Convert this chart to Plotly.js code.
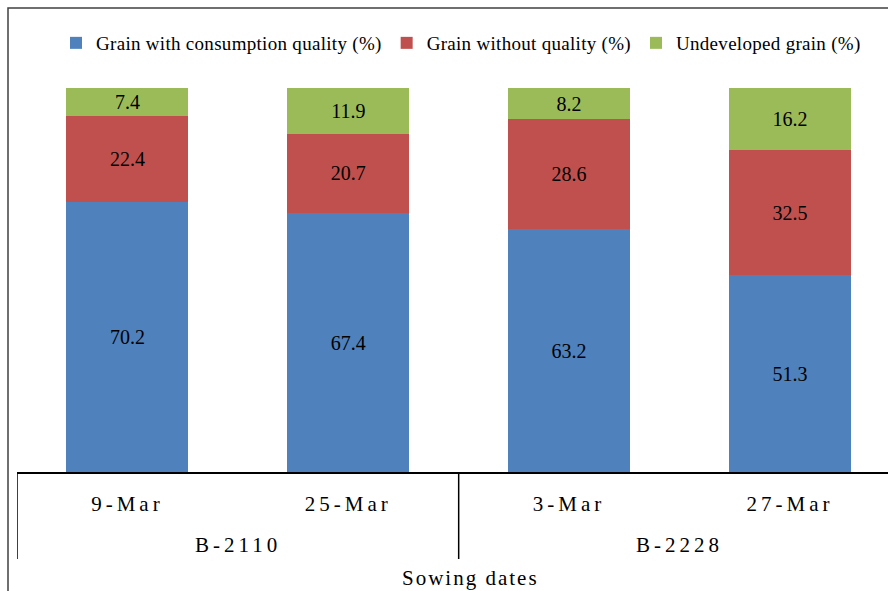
<!DOCTYPE html>
<html>
<head>
<meta charset="utf-8">
<script src="https://cdn.plot.ly/plotly-3.0.1.min.js"></script>
<style>
  html, body { margin: 0; padding: 0; background: #fff; font-family: 'Liberation Serif', serif; }
  #chart { width: 888px; height: 591px; }
  #chart svg text { font-family: 'Liberation Serif', serif !important; }
  .xtick text { letter-spacing: 4px; }
  .legendtext { letter-spacing: 0.3px; }
  .grp-label text { letter-spacing: 4px; }
  .axis-name text { letter-spacing: 2px; }
</style>
</head>
<body>
<div id="chart"></div>
<script>
// Sowing dates and the cultivar each one belongs to
const sowingDates = ['9-Mar', '25-Mar', '3-Mar', '27-Mar'];
const cultivars = ['B-2110', 'B-2110', 'B-2228', 'B-2228'];
const cultivarGroups = ['B-2110', 'B-2228'];

// Grain composition (%) per sowing date
const consumptionQuality = [70.2, 67.4, 63.2, 51.3];
const withoutQuality = [22.4, 20.7, 28.6, 32.5];
const undeveloped = [7.4, 11.9, 8.2, 16.2];

const seriesNames = [
  'Grain with consumption quality (%)',
  'Grain without quality (%)',
  'Undeveloped grain (%)'
];
const seriesColors = ['#4F81BD', '#C0504D', '#9BBB59'];
const seriesValues = [consumptionQuality, withoutQuality, undeveloped];

const W = 888, H = 591;
const M = { l: 17, r: 0, t: 88, b: 119 };
const plotW = W - M.l - M.r;
const plotH = H - M.t - M.b;
const px2x = p => (p - M.l) / plotW;          // pixel column -> paper x
const py2y = p => (H - M.b - p) / plotH;       // pixel row -> paper y

const serif = 'Liberation Serif';

const traces = seriesValues.map((vals, i) => ({
  type: 'bar',
  name: seriesNames[i],
  x: sowingDates,
  y: vals,
  customdata: cultivars,
  marker: { color: seriesColors[i], line: { width: 0 } },
  text: vals.map(v => v.toFixed(1)),
  textposition: 'inside',
  insidetextanchor: 'middle',
  constraintext: 'none',
  textangle: 0,
  textfont: { family: serif, size: 20, color: '#000' },
  hoverinfo: 'skip'
}));

// Group index of each sowing date, used to place the cultivar labels and dividers
const groupIdx = g => cultivars.map((c, k) => c === g ? k : null).filter(k => k !== null);
const groupCenters = cultivarGroups.map(g => {
  const idx = groupIdx(g);
  return (idx[0] + idx[idx.length - 1]) / 2;
});
const groupEdges = [-0.5].concat(cultivarGroups.map(g => {
  const idx = groupIdx(g);
  return idx[idx.length - 1] + 0.5;
}));

const shapes = groupEdges.map(e => ({
  type: 'line', xref: 'x', yref: 'paper',
  x0: e, x1: e, y0: 0, y1: py2y(559),
  line: { color: '#000', width: 1.5 }
}));

// Outer frame (left and top edges)
shapes.push({
  type: 'path', xref: 'paper', yref: 'paper',
  path: `M ${px2x(8)} ${py2y(H + 5)} L ${px2x(8)} ${py2y(8)} L ${px2x(W + 5)} ${py2y(8)}`,
  line: { color: '#404040', width: 1.5 }
});

const annotations = cultivarGroups.map((g, i) => ({
  text: g, xref: 'x', yref: 'paper',
  x: groupCenters[i], y: py2y(545),
  xanchor: 'center', yanchor: 'middle',
  showarrow: false,
  font: { family: serif, size: 21, color: '#000' }
}));
annotations.push({
  text: 'Sowing dates', xref: 'paper', yref: 'paper',
  x: px2x(470), y: py2y(578),
  xanchor: 'center', yanchor: 'middle',
  showarrow: false,
  font: { family: serif, size: 21, color: '#000' }
});

const layout = {
  width: W, height: H,
  margin: M,
  barmode: 'stack',
  bargap: 0.447,
  paper_bgcolor: '#fff',
  plot_bgcolor: '#fff',
  font: { family: serif, color: '#000' },
  showlegend: true,
  legend: {
    orientation: 'h',
    x: px2x(461), xanchor: 'center',
    y: py2y(43), yanchor: 'middle',
    font: { family: serif, size: 19, color: '#000' },
    traceorder: 'normal',
    itemwidth: 30,
    bgcolor: 'rgba(0,0,0,0)'
  },
  xaxis: {
    type: 'category',
    range: [-0.5, 3.444],
    showline: true, linecolor: '#000', linewidth: 1.5,
    showgrid: false, zeroline: false,
    ticks: 'outside', ticklen: 12, tickcolor: 'rgba(0,0,0,0)',
    tickfont: { family: serif, size: 21, color: '#000' },
    fixedrange: true
  },
  yaxis: {
    range: [0, 100],
    visible: false,
    fixedrange: true
  },
  shapes: shapes,
  annotations: annotations
};

Plotly.newPlot('chart', traces, layout, { displayModeBar: false, staticPlot: true }).then(() => {
  document.querySelectorAll('.annotation').forEach(a => {
    const t = a.textContent;
    if (cultivarGroups.includes(t)) a.classList.add('grp-label');
    else if (t === 'Sowing dates') a.classList.add('axis-name');
  });
});
</script>
</body>
</html>
